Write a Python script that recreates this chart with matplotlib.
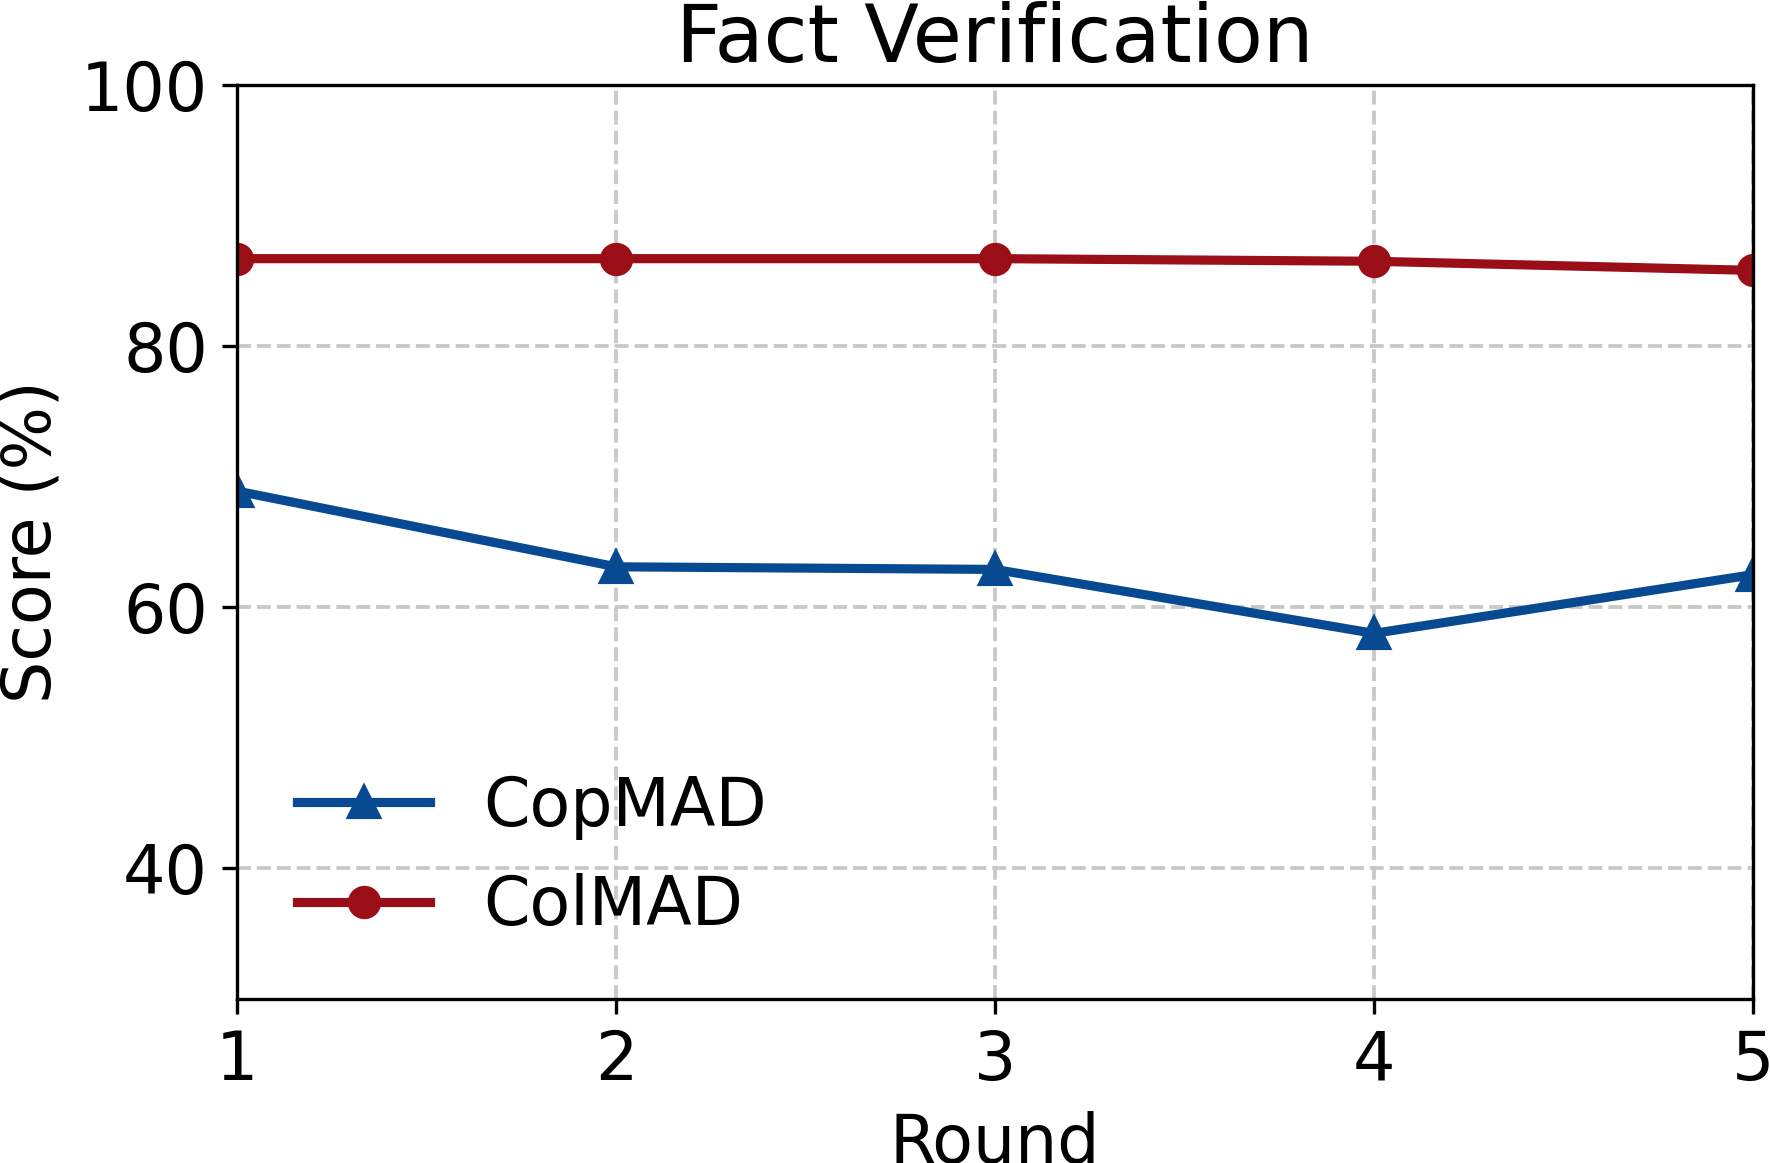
import numpy as np
import matplotlib.pyplot as plt

rounds = [1, 2, 3, 4, 5]
copmad = [68.9, 63.1, 62.9, 58.0, 62.5]
colmad = [86.7, 86.7, 86.7, 86.5, 85.8]

BLUE = '#084a92'
RED = '#9a0e17'

plt.rcParams['font.size'] = 16

fig = plt.figure(figsize=(5.9, 3.8767), dpi=300)
ax = fig.add_axes([237/1770, 1-999/1163, (1753-237)/1770, (999-85)/1163])

ax.plot(rounds, copmad, color=BLUE, marker='^', lw=2.2, ms=7, label='CopMAD')
ax.plot(rounds, colmad, color=RED, marker='o', lw=2.2, ms=7, label='ColMAD')

ax.set_xlim(1, 5)
ax.set_ylim(30, 100)
ax.set_xticks(rounds)
ax.set_yticks([40, 60, 80, 100])
ax.grid(True, linestyle='--', color='#c8c8c8', lw=0.9)
ax.set_axisbelow(True)
ax.set_xlabel('Round', fontsize=16, labelpad=4)
ax.set_ylabel('Score (%)', fontsize=16)
ax.set_title('Fact Verification', fontsize=19.2, pad=5.5)
ax.legend(loc='lower left', frameon=False, fontsize=16)

fig.savefig('out.png', dpi=300)
